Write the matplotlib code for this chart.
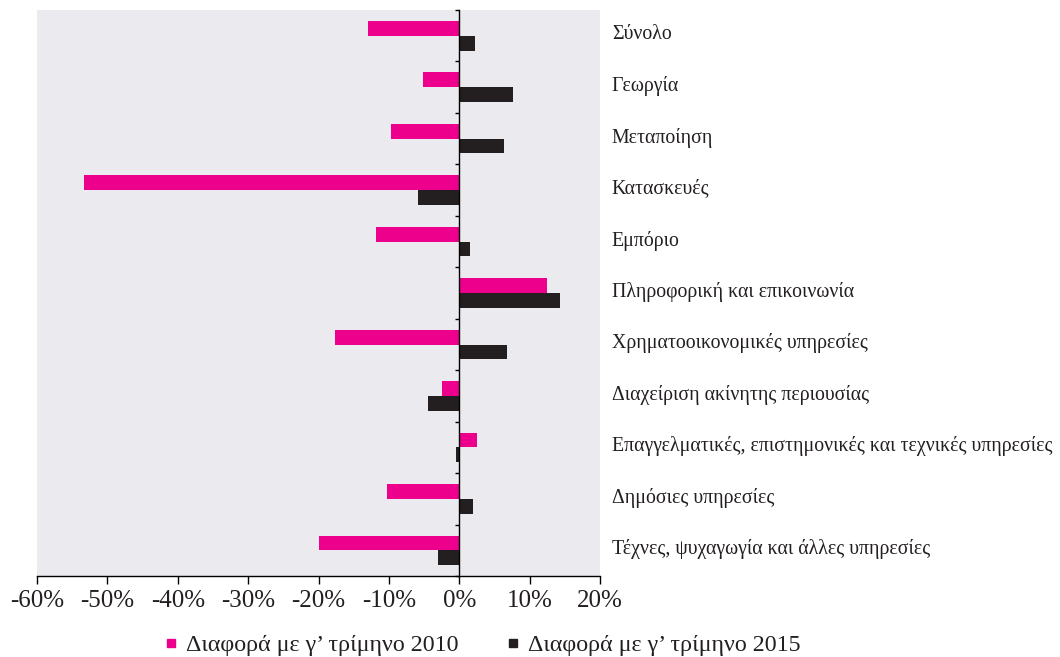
import matplotlib.pyplot as plt
import numpy as np
from matplotlib.lines import Line2D
from matplotlib.ticker import FuncFormatter
import matplotlib.transforms as mtransforms

plt.rcParams['font.family'] = ['Liberation Serif', 'DejaVu Serif']

categories = [
    'Σύνολο',
    'Γεωργία',
    'Μεταποίηση',
    'Κατασκευές',
    'Εμπόριο',
    'Πληροφορική και επικοινωνία',
    'Χρηματοοικονομικές υπηρεσίες',
    'Διαχείριση ακίνητης περιουσίας',
    'Επαγγελματικές, επιστημονικές και τεχνικές υπηρεσίες',
    'Δημόσιες υπηρεσίες',
    'Τέχνες, ψυχαγωγία και άλλες υπηρεσίες',
]
diff_2010 = [-12.9, -5.1, -9.7, -53.4, -11.9, 12.5, -17.6, -2.4, 2.5, -10.2, -20.0]
diff_2015 = [2.2, 7.7, 6.3, -5.9, 1.5, 14.3, 6.8, -4.5, -0.5, 2.0, -3.0]
series_labels = ['Διαφορά με γ\u2019 τρίμηνο 2010', 'Διαφορά με γ\u2019 τρίμηνο 2015']

pink = '#EC008C'
dark = '#231F20'
bg = '#EBEAEE'

fig = plt.figure(figsize=(10.6, 6.57), dpi=100)
ax = fig.add_axes([0.035, 0.123, 0.531, 0.862])
ax.set_facecolor(bg)

y = np.arange(len(categories))
h = 0.29
ax.barh(y - h / 2, diff_2010, height=h, color=pink)
ax.barh(y + h / 2, diff_2015, height=h, color=dark)

ax.set_ylim(len(categories) - 0.5, -0.5)
ax.set_xlim(-60, 20)
ax.set_xticks(np.arange(-60, 21, 10))
ax.xaxis.set_major_formatter(FuncFormatter(lambda v, p: f'{v:.0f}%'))
ax.tick_params(axis='x', direction='out', length=6, width=1, labelsize=18,
               pad=4, labelcolor='#231F20')

# y axis sits at zero with small ticks between categories
for s in ['top', 'right']:
    ax.spines[s].set_visible(False)
ax.spines['left'].set_position(('data', 0))
ax.spines['left'].set_linewidth(1)
ax.spines['bottom'].set_linewidth(1)
ax.set_yticks(np.arange(-0.5, len(categories), 1))
ax.set_yticklabels([])
ax.tick_params(axis='y', direction='out', length=3, width=1)

trans = mtransforms.blended_transform_factory(ax.transAxes, ax.transData)
for i, name in enumerate(categories):
    ax.text(1.021, i - 0.02, name, transform=trans, ha='left', va='center',
            fontsize=14.35, color='#231F20')

handles = [Line2D([], [], marker='s', linestyle='none', color=c, markersize=6)
           for c in (pink, dark)]
fig.legend(handles=handles, labels=series_labels, loc='center',
           bbox_to_anchor=(484 / 1060, 1 - 645 / 657), ncol=2, frameon=False,
           fontsize=17.3, handlelength=0.35, handletextpad=0.45,
           columnspacing=2.1, labelcolor='#231F20')

plt.savefig('out.png', dpi=100)
